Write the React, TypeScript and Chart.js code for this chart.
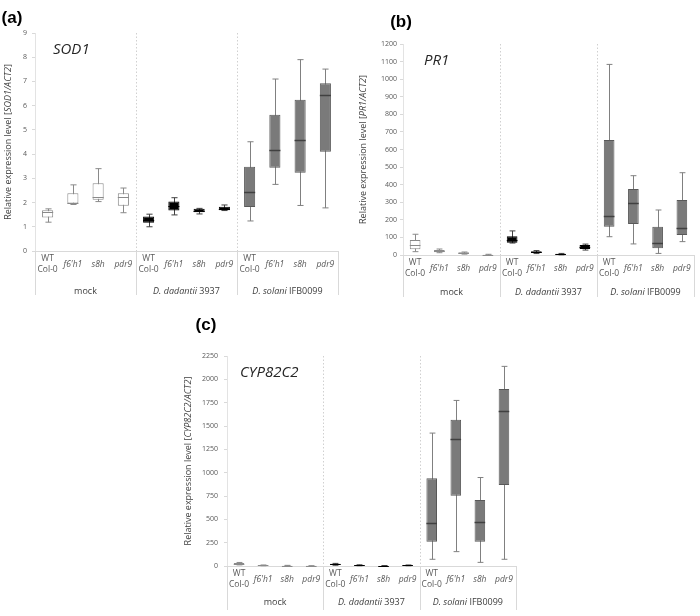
import React, { useEffect, useRef } from 'react';
import { Chart, registerables } from 'chart.js';
Chart.register(...registerables);

// ---------- data ----------
const categories: (string | string[])[] = [
  ['WT', 'Col-0'], "f6'h1", 's8h', 'pdr9',
  ['WT', 'Col-0'], "f6'h1", 's8h', 'pdr9',
  ['WT', 'Col-0'], "f6'h1", 's8h', 'pdr9',
];
const groupLabels: [string, boolean][][] = [
  [['mock', false]],
  [['D. dadantii', true], [' 3937', false]],
  [['D. solani', true], [' IFB0099', false]],
];

// SOD1
const sodMin = [1.19, 1.92, 2.04, 1.58, 1.0, 1.49, 1.53, 1.67, 1.24, 2.75, 1.88, 1.78];
const sodQ1 = [1.38, 1.96, 2.12, 1.87, 1.17, 1.67, 1.6, 1.68, 1.82, 3.44, 3.23, 4.1];
const sodMed = [1.62, 2.0, 2.25, 2.22, 1.3, 1.85, 1.67, 1.75, 2.42, 4.16, 4.58, 6.42];
const sodQ3 = [1.68, 2.38, 2.8, 2.38, 1.42, 2.04, 1.74, 1.83, 3.48, 5.62, 6.24, 6.93];
const sodMax = [1.74, 2.73, 3.4, 2.6, 1.52, 2.2, 1.76, 1.9, 4.51, 7.1, 7.9, 7.51];

// PR1
const prMin = [19, 13, 5, 0, 68, 8, 1, 28, 104, 63, 9, 76];
const prQ1 = [32, 15, 8, 1, 70, 11, 3, 34, 161, 176, 38, 114];
const prMed = [57, 22, 11, 2, 88, 16, 5, 45, 222, 298, 66, 155];
const prQ3 = [85, 28, 15, 3, 106, 21, 7, 57, 654, 375, 161, 313];
const prMax = [118, 34, 17, 4, 137, 25, 9, 62, 1084, 451, 256, 468];

// CYP82C2
const cypMin = [12, 3, 2, 0, 8, 3, 1, 3, 72, 154, 39, 72];
const cypQ1 = [20, 5, 3, 0.5, 14, 6, 2, 5, 261, 754, 261, 869];
const cypMed = [26, 7, 4, 1, 18, 8, 3, 7, 458, 1359, 476, 1663];
const cypQ3 = [32, 9, 6, 1.5, 24, 11, 4, 9, 941, 1566, 708, 1896];
const cypMax = [38, 11, 7, 2, 28, 13, 5, 11, 1424, 1774, 948, 2139];

// ---------- styles ----------
const FONT = 'Open Sans';
const fillByGroup = ['#ffffff', '#000000', '#7a7a7a'];
const borderByGroup = ['#8a8a8a', '#000000', '#595959'];
const whiskerByGroup = ['#8a8a8a', '#404040', '#808080'];
const medianByGroup = ['#8a8a8a', '#000000', '#404040'];

type Panel = {
  letter: string; gene: string; titleItalic: string;
  mins: number[]; q1: number[]; med: number[]; q3: number[]; maxs: number[];
  yMax: number; yStep: number;
  left: number; top: number; w: number; h: number;
  pad: { left: number; right: number; top: number; bottom: number };
  yAxisW: number; xAxisH: number; yTickPad: number; xTickPad: number;
  titleX: number; geneX: number; geneY: number; letterX: number; letterY: number;
  groupY: number;
};

const panels: Panel[] = [
  {
    letter: '(a)', gene: 'SOD1', titleItalic: 'SOD1/ACT2',
    mins: sodMin, q1: sodQ1, med: sodMed, q3: sodQ3, maxs: sodMax,
    yMax: 9, yStep: 1,
    left: 0, top: 0, w: 345, h: 300,
    pad: { left: 0, right: 7, top: 33, bottom: 5 },
    yAxisW: 35, xAxisH: 44, yTickPad: 5, xTickPad: 8,
    titleX: 8, geneX: 53, geneY: 50, letterX: 12, letterY: 18, groupY: 40,
  },
  {
    letter: '(b)', gene: 'PR1', titleItalic: 'PR1/ACT2',
    mins: prMin, q1: prQ1, med: prMed, q3: prQ3, maxs: prMax,
    yMax: 1200, yStep: 100,
    left: 350, top: 0, w: 350, h: 305,
    pad: { left: 0, right: 6, top: 44, bottom: 8 },
    yAxisW: 53, xAxisH: 42, yTickPad: 3, xTickPad: 8,
    titleX: 13, geneX: 74, geneY: 61, letterX: 51, letterY: 22, groupY: 37,
  },
  {
    letter: '(c)', gene: 'CYP82C2', titleItalic: 'CYP82C2/ACT2',
    mins: cypMin, q1: cypQ1, med: cypMed, q3: cypQ3, maxs: cypMax,
    yMax: 2250, yStep: 250,
    left: 160, top: 305, w: 380, h: 311,
    pad: { left: 0, right: 24, top: 51, bottom: 6 },
    yAxisW: 67, xAxisH: 44, yTickPad: 6, xTickPad: 8,
    titleX: 28, geneX: 80, geneY: 68, letterX: 46, letterY: 20, groupY: 36,
  },
];

function drawParts(ctx: CanvasRenderingContext2D, parts: [string, boolean][], cx: number, cy: number, size: number, color: string) {
  const fontFor = (it: boolean) => `${it ? 'italic ' : ''}${size}px "${FONT}"`;
  let total = 0;
  for (const [t, it] of parts) { ctx.font = fontFor(it); total += ctx.measureText(t).width; }
  let x = cx - total / 2;
  ctx.fillStyle = color;
  ctx.textBaseline = 'middle';
  ctx.textAlign = 'left';
  for (const [t, it] of parts) {
    ctx.font = fontFor(it);
    ctx.fillText(t, x, cy);
    x += ctx.measureText(t).width;
  }
}

function makePlugin(p: Panel) {
  return {
    id: 'boxExtras',
    beforeDatasetsDraw(chart: any) {
      const { ctx, chartArea } = chart;
      const x = chart.scales.x, y = chart.scales.y;
      ctx.save();
      ctx.lineWidth = 1;
      ctx.strokeStyle = '#d0d0d0';
      ctx.setLineDash([1.5, 2]);
      for (const b of [3.5, 7.5]) {
        const px = Math.round(x.getPixelForValue(b)) + 0.5;
        ctx.beginPath(); ctx.moveTo(px, chartArea.top); ctx.lineTo(px, chartArea.bottom); ctx.stroke();
      }
      ctx.setLineDash([]);
      ctx.strokeStyle = '#d9d9d9';
      for (const b of [-0.5, 3.5, 7.5, 11.5]) {
        const px = Math.round(x.getPixelForValue(b)) + 0.5;
        ctx.beginPath(); ctx.moveTo(px, chartArea.bottom); ctx.lineTo(px, chartArea.bottom + p.xAxisH); ctx.stroke();
      }
      const meta = chart.getDatasetMeta(0);
      meta.data.forEach((bar: any, i: number) => {
        const g = Math.floor(i / 4);
        const cx = Math.round(bar.x) + 0.5;
        const cw = bar.width * 0.55;
        const yMin = y.getPixelForValue(p.mins[i]);
        const yMax = y.getPixelForValue(p.maxs[i]);
        ctx.strokeStyle = whiskerByGroup[g];
        ctx.beginPath();
        ctx.moveTo(cx, yMin); ctx.lineTo(cx, yMax);
        ctx.moveTo(cx - cw / 2, yMin); ctx.lineTo(cx + cw / 2, yMin);
        ctx.moveTo(cx - cw / 2, yMax); ctx.lineTo(cx + cw / 2, yMax);
        ctx.stroke();
      });
      ctx.restore();
    },
    afterDatasetsDraw(chart: any) {
      const { ctx, chartArea } = chart;
      const x = chart.scales.x, y = chart.scales.y;
      ctx.save();
      const meta = chart.getDatasetMeta(0);
      meta.data.forEach((bar: any, i: number) => {
        const g = Math.floor(i / 4);
        const ym = Math.round(y.getPixelForValue(p.med[i])) + 0.5;
        ctx.strokeStyle = medianByGroup[g];
        ctx.lineWidth = g === 2 ? 1.5 : 1;
        ctx.beginPath();
        ctx.moveTo(bar.x - bar.width / 2, ym); ctx.lineTo(bar.x + bar.width / 2, ym);
        ctx.stroke();
      });
      groupLabels.forEach((parts, gi) => {
        drawParts(ctx, parts, x.getPixelForValue(gi * 4 + 1.5), chartArea.bottom + p.groupY, 9, '#404040');
      });
      ctx.save();
      ctx.translate(p.titleX, (chartArea.top + chartArea.bottom) / 2);
      ctx.rotate(-Math.PI / 2);
      drawParts(ctx, [['Relative expression level [', false], [p.titleItalic, true], [']', false]], 0, 0, 9, '#404040');
      ctx.restore();
      ctx.font = `italic 15px "${FONT}"`;
      ctx.fillStyle = '#262626';
      ctx.textAlign = 'left';
      ctx.textBaseline = 'middle';
      ctx.fillText(p.gene, p.geneX, p.geneY);
      ctx.font = 'bold 17px "Liberation Sans"';
      ctx.fillStyle = '#000000';
      ctx.textAlign = 'center';
      ctx.fillText(p.letter, p.letterX, p.letterY);
      ctx.restore();
    },
  };
}

function BoxChart({ p }: { p: Panel }) {
  const ref = useRef<HTMLCanvasElement>(null);
  useEffect(() => {
    if (!ref.current) return;
    const chart = new Chart(ref.current, {
      type: 'bar',
      data: {
        labels: categories as any,
        datasets: [{
          data: p.q1.map((v, i) => [v, p.q3[i]]) as any,
          backgroundColor: p.q1.map((_, i) => fillByGroup[Math.floor(i / 4)]),
          borderColor: p.q1.map((_, i) => borderByGroup[Math.floor(i / 4)]),
          borderWidth: 1,
          borderSkipped: false,
          barPercentage: 0.44,
          categoryPercentage: 1,
        }],
      },
      options: {
        responsive: false,
        animation: false,
        layout: { padding: p.pad },
        plugins: { legend: { display: false }, tooltip: { enabled: false } },
        scales: {
          x: {
            offset: true,
            grid: { display: false, drawTicks: false },
            border: { display: true, color: '#d9d9d9' },
            afterFit: (s: any) => { s.height = p.xAxisH; },
            ticks: {
              autoSkip: false, maxRotation: 0, minRotation: 0,
              padding: p.xTickPad,
              crossAlign: 'center',
              color: '#595959',
              font: (c: any) => ({ family: FONT, size: 8.5, lineHeight: 1.3, style: c.index % 4 === 0 ? 'normal' : 'italic' }),
            },
          },
          y: {
            min: 0, max: p.yMax,
            grid: { drawOnChartArea: false, drawTicks: true, tickLength: 3, color: '#d9d9d9' },
            border: { display: true, color: '#e3e3e3' },
            afterFit: (s: any) => { s.width = p.yAxisW; },
            ticks: {
              stepSize: p.yStep, padding: p.yTickPad, color: '#595959',
              font: { family: FONT, size: 7 },
              callback: (v: any) => String(v),
            },
          },
        },
      },
      plugins: [makePlugin(p)],
    } as any);
    return () => chart.destroy();
  }, [p]);
  return (
    <canvas
      ref={ref}
      width={p.w}
      height={p.h}
      style={{ position: 'absolute', left: p.left, top: p.top, width: p.w, height: p.h }}
    />
  );
}

export default function App() {
  return (
    <div style={{ position: 'absolute', left: 0, top: 0, width: 700, height: 616, background: '#ffffff', overflow: 'hidden' }}>
      {panels.map((p) => <BoxChart key={p.letter} p={p} />)}
    </div>
  );
}
